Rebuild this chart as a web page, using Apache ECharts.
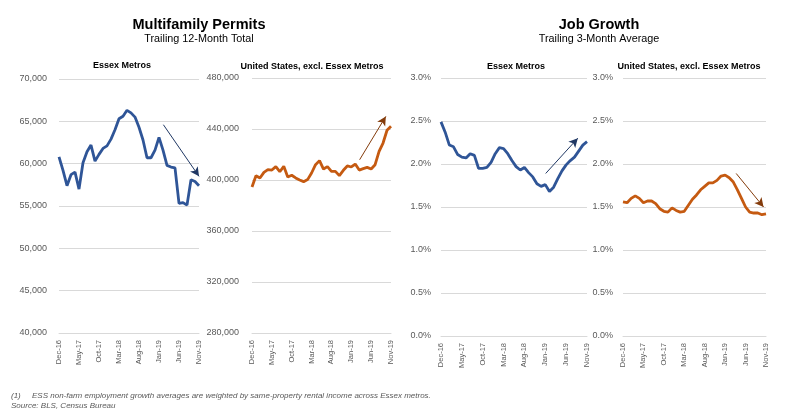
<!DOCTYPE html>
<html>
<head>
<meta charset="utf-8">
<script src="https://cdn.jsdelivr.net/npm/echarts@6/dist/echarts.min.js"></script>
<style>
  html, body { margin: 0; padding: 0; background: #fff; }
  #main { width: 796px; height: 409px; }
</style>
</head>
<body>
<div id="main"></div>
<script>
// monthly, Dec-16 .. Nov-19
var months = ['Dec-16','Jan-17','Feb-17','Mar-17','Apr-17','May-17','Jun-17','Jul-17','Aug-17','Sep-17','Oct-17','Nov-17',
  'Dec-17','Jan-18','Feb-18','Mar-18','Apr-18','May-18','Jun-18','Jul-18','Aug-18','Sep-18','Oct-18','Nov-18',
  'Dec-18','Jan-19','Feb-19','Mar-19','Apr-19','May-19','Jun-19','Jul-19','Aug-19','Sep-19','Oct-19','Nov-19'];

// multifamily permits, trailing 12-month total
var essexPermits = [60800,59200,57400,58700,59000,57000,60100,61400,62200,60300,61100,61800,
  62100,62900,64000,65300,65600,66300,66000,65500,64300,62800,60700,60700,
  61600,63100,61600,59800,59600,59500,55300,55400,55100,58100,57900,57400];
var usPermits = [394500,403400,401600,406000,408100,407800,410500,406500,410700,402400,403700,401600,
  400000,398700,400300,405500,412000,415200,408600,410500,406800,406800,403400,407600,
  411000,410200,412500,407800,408900,409900,408600,412000,422500,429000,439000,442100];

// job growth, trailing 3-month average (%)
var essexJobs = [2.49,2.37,2.22,2.20,2.11,2.08,2.07,2.12,2.10,1.95,1.95,1.96,
  2.02,2.12,2.19,2.18,2.12,2.04,1.97,1.93,1.96,1.90,1.85,1.77,
  1.74,1.76,1.68,1.73,1.83,1.92,1.99,2.04,2.08,2.15,2.22,2.26];
var usJobs = [1.56,1.55,1.60,1.63,1.60,1.55,1.57,1.57,1.54,1.48,1.45,1.44,
  1.49,1.46,1.44,1.45,1.52,1.59,1.64,1.70,1.74,1.78,1.78,1.81,
  1.86,1.87,1.84,1.79,1.70,1.60,1.50,1.44,1.43,1.43,1.41,1.42];

// trend arrows [monthIndex, value] start -> end
var essexPermitsArrow = [[26.1, 64600], [35, 58500]];
var usPermitsArrow = [[27.1, 415900], [33.7, 449900]];
var essexJobsArrow = [[25.1, 1.89], [32.8, 2.30]];
var usJobsArrow = [[27.7, 1.89], [34.4, 1.50]];

var BLUE = '#2f5597';
var ORANGE = '#c55a11';
var FONT = 'Liberation Sans, Arial, sans-serif';

var chart = echarts.init(document.getElementById('main'), null, { renderer: 'canvas' });

function pairs(arr) {
  return arr.map(function (v, i) { return [i, v]; });
}

var grids = [
  { left: 59, top: 79, width: 140, height: 254 },
  { left: 252, top: 78, width: 139, height: 255 },
  { left: 441, top: 78, width: 146, height: 258 },
  { left: 623, top: 78, width: 143, height: 258 }
];

var xAxes = grids.map(function (g, k) {
  return {
    type: 'value', gridIndex: k, min: 0, max: 35, interval: 5,
    axisLine: { show: true, lineStyle: { color: '#d9d9d9' } },
    axisTick: { show: false },
    splitLine: { show: false },
    axisLabel: {
      rotate: 90, margin: 7, fontSize: 7.5, color: '#595959', fontFamily: FONT,
      formatter: function (v) { return months[v]; }
    }
  };
});

function yAxis(k, min, max, step, fmt, margin) {
  return {
    type: 'value', gridIndex: k, min: min, max: max, interval: step,
    axisLine: { show: false }, axisTick: { show: false },
    splitLine: { lineStyle: { color: '#d9d9d9', width: 1 } },
    axisLabel: { fontSize: 9, color: '#595959', fontFamily: FONT, margin: margin, formatter: fmt }
  };
}
var thousands = function (v) { return v.toLocaleString('en-US'); };
var pct = function (v) { return v.toFixed(1) + '%'; };

function lineSeries(k, values, color, arrow, arrowColor) {
  return {
    type: 'line', xAxisIndex: k, yAxisIndex: k,
    data: pairs(values),
    showSymbol: false, silent: true,
    lineStyle: { color: color, width: 2.8 },
    markLine: {
      silent: true, animation: false,
      symbol: ['none', 'arrow'], symbolSize: [7, 9],
      label: { show: false },
      lineStyle: { color: arrowColor, width: 1, type: 'solid' },
      data: [[{ coord: arrow[0] }, { coord: arrow[1] }]]
    }
  };
}

function txt(text, x, y, size, opts) {
  opts = opts || {};
  return {
    text: text, left: x, top: y, textAlign: opts.align || 'center',
    textStyle: {
      fontSize: size, fontFamily: FONT, color: opts.color || '#000',
      fontWeight: opts.bold ? 'bold' : 'normal', fontStyle: opts.italic ? 'italic' : 'normal'
    }
  };
}

var option = {
  backgroundColor: '#fff',
  animation: false,
  title: [
    txt('Multifamily Permits', 194, 12, 14.5, { bold: true }),
    txt('Trailing 12-Month Total', 194, 29, 10.8),
    txt('Job Growth', 594, 12, 14.5, { bold: true }),
    txt('Trailing 3-Month Average', 594, 29, 10.8),
    txt('Essex Metros', 117, 56, 9, { bold: true }),
    txt('United States, excl. Essex Metros', 307, 57, 9, { bold: true }),
    txt('Essex Metros', 511, 57, 9, { bold: true }),
    txt('United States, excl. Essex Metros', 684, 57, 9, { bold: true }),
    txt('(1)', 6, 387, 8, { align: 'left', italic: true, color: '#595959' }),
    txt('ESS non-farm employment growth averages are weighted by same-property rental income across Essex metros.', 27, 387, 8, { align: 'left', italic: true, color: '#595959' }),
    txt('Source: BLS, Census Bureau', 6, 397, 8, { align: 'left', italic: true, color: '#595959' })
  ],
  grid: grids,
  xAxis: xAxes,
  yAxis: [
    yAxis(0, 40000, 70000, 5000, thousands, 12),
    yAxis(1, 280000, 480000, 40000, thousands, 13),
    yAxis(2, 0, 3, 0.5, pct, 10),
    yAxis(3, 0, 3, 0.5, pct, 10)
  ],
  series: [
    lineSeries(0, essexPermits, BLUE, essexPermitsArrow, '#203864'),
    lineSeries(1, usPermits, ORANGE, usPermitsArrow, '#843c0c'),
    lineSeries(2, essexJobs, BLUE, essexJobsArrow, '#203864'),
    lineSeries(3, usJobs, ORANGE, usJobsArrow, '#843c0c')
  ]
};

chart.setOption(option);
</script>
</body>
</html>
